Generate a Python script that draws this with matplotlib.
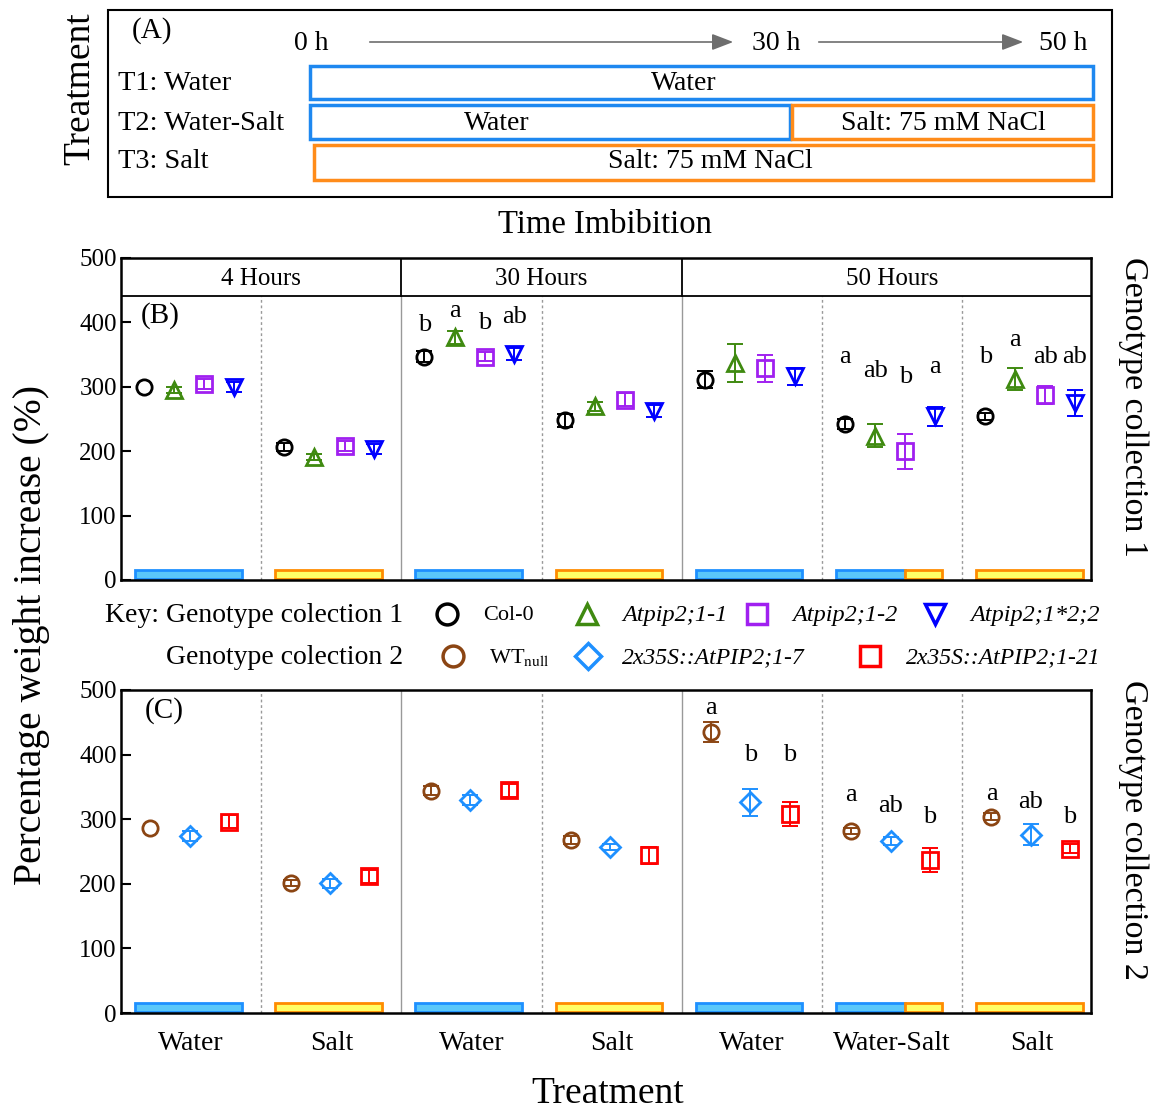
import matplotlib
matplotlib.use("Agg")
import matplotlib.pyplot as plt
from matplotlib.patches import Rectangle
import numpy as np

plt.rcParams['font.family'] = ['Liberation Serif', 'DejaVu Serif']
plt.rcParams['mathtext.fontset'] = 'stix'

# ---------------- data ----------------
groups = ["Water", "Salt", "Water", "Salt", "Water", "Water-Salt", "Salt"]
treat_kind = ["water", "salt", "water", "salt", "water", "watersalt", "salt"]
headers = ["4 Hours", "30 Hours", "50 Hours"]
header_span = [(0, 1), (2, 3), (4, 6)]

geno1 = ["Col-0", "Atpip2;1-1", "Atpip2;1-2", "Atpip2;1*2;2"]
col0 = [300, 207, 347, 248, 311, 242, 254]
col0_err = [0, 6, 8, 10, 13, 8, 6]
a11 = [295, 191, 377, 270, 337, 224, 312]
a11_err = [5, 5, 10, 7, 30, 18, 17]
a12 = [304, 208, 347, 280, 329, 200, 287]
a12_err = [8, 8, 7, 10, 21, 27, 14]
a122 = [300, 203, 351, 262, 316, 254, 275]
a122_err = [8, 8, 9, 9, 13, 15, 20]

geno2 = ["WT$_{\\mathrm{null}}$", "2x35S::AtPIP2;1-7", "2x35S::AtPIP2;1-21"]
wt = [286, 201, 344, 268, 435, 282, 304]
wt_err = [0, 5, 7, 6, 16, 5, 6]
oe7 = [274, 201, 330, 257, 326, 266, 276]
oe7_err = [7, 7, 8, 5, 21, 6, 16]
oe21 = [296, 212, 345, 244, 308, 237, 254]
oe21_err = [10, 10, 10, 13, 19, 19, 7]

# significance letters: (group, labels, heights)
letters_b = [(2, ["b", "a", "b", "ab"], [396, 418, 399, 408]),
             (5, ["a", "ab", "b", "a"], [346, 325, 315, 331]),
             (6, ["b", "a", "ab", "ab"], [347, 373, 346, 346])]
letters_c = [(4, ["a", "b", "b"], [472, 399, 399]),
             (5, ["a", "ab", "b"], [337, 321, 304]),
             (6, ["a", "ab", "b"], [339, 326, 304])]

# ---------------- styles ----------------
c1_colors = ["black", "#3f8a10", "#a020f0", "#0000ff"]
c1_markers = ["o", "^", "s", "v"]
c1_offsets = [-0.335, -0.12, 0.095, 0.305]
c2_colors = ["#8b4513", "#1e90ff", "#ff0000"]
c2_markers = ["o", "D", "s"]
c2_offsets = [-0.29, -0.01, 0.27]
water_fc, water_ec = "#5ac8fa", "#1e90ff"
salt_fc, salt_ec = "#ffff66", "#ff8c00"

W, H = 1156, 1112
fig = plt.figure(figsize=(W / 100, H / 100), dpi=100)


def px_axes(l, t, r, b):
    return [l / W, 1 - b / H, (r - l) / W, (b - t) / H]


def setup_panel(ax, header):
    ax.set_xlim(-0.5, 6.42)
    ax.set_ylim(0, 500)
    ax.set_yticks([0, 100, 200, 300, 400, 500])
    ax.tick_params(axis='y', labelsize=18, length=7, width=1.5, direction='in', pad=3)
    for s in ax.spines.values():
        s.set_linewidth(1.8)
        s.set_color("black")
    top = 441 if header else 500
    for xb in [1.5, 3.5]:
        ax.plot([xb, xb], [0, top], color="#999999", lw=1.0, zorder=1)
    for xb in [0.5, 2.5, 4.5, 5.5]:
        ax.plot([xb, xb], [0, top], color="#999999", lw=1.0, ls=(0, (2, 2)), zorder=1)
    if header:
        ax.axhline(441, color="black", lw=1.3)
        for xb in [1.5, 3.5]:
            ax.plot([xb, xb], [441, 500], color="black", lw=1.3)
        for h, (a, b) in zip(headers, header_span):
            ax.text((a + b) / 2, 467, h, ha="center", va="center", fontsize=18)
    # treatment bars
    bw = 0.76
    for i, k in enumerate(treat_kind):
        x0 = i - 0.02 - bw / 2
        if k == "water":
            ax.add_patch(Rectangle((x0, 2), bw, 14, fc=water_fc, ec=water_ec, lw=2, zorder=2))
        elif k == "salt":
            ax.add_patch(Rectangle((x0, 2), bw, 14, fc=salt_fc, ec=salt_ec, lw=2, zorder=2))
        else:
            f = 0.65
            ax.add_patch(Rectangle((x0, 1), bw * f, 14, fc=water_fc, ec=water_ec, lw=2, zorder=2))
            ax.add_patch(Rectangle((x0 + bw * f, 1), bw * (1 - f), 14, fc=salt_fc, ec=salt_ec, lw=2, zorder=2))


def draw_series(ax, xs, vals, errs, c, m, ms):
    xs = np.asarray(xs, float)
    vals = np.asarray(vals, float)
    errs = np.asarray(errs, float)
    ax.plot(xs, vals, ls="none", marker=m, mfc="none", mec=c, ms=ms, mew=2, zorder=4)
    keep = errs > 0
    ax.errorbar(xs[keep], vals[keep], yerr=errs[keep], fmt="none", ecolor=c,
                elinewidth=1.4, capsize=6, capthick=1.4, zorder=3)


x = np.arange(len(groups))

# ---------------- panel B ----------------
axB = fig.add_axes(px_axes(121, 258, 1091, 580))
setup_panel(axB, True)
axB.set_xticks([])
for vals, errs, c, m, off in zip([col0, a11, a12, a122], [col0_err, a11_err, a12_err, a122_err],
                                 c1_colors, c1_markers, c1_offsets):
    draw_series(axB, x + off, vals, errs, c, m, 11)
for g, labs, ys in letters_b:
    for lab, yy, off in zip(labs, ys, c1_offsets):
        axB.text(g + off, yy, lab, ha="center", va="center", fontsize=19)
axB.text(0.04, 0.82, "(B)", transform=axB.transAxes, fontsize=21, ha="center", va="center")

# ---------------- panel C ----------------
axC = fig.add_axes(px_axes(121, 690, 1091, 1013))
setup_panel(axC, False)
axC.set_xticks(x)
axC.set_xticklabels(groups, fontsize=20)
axC.tick_params(axis='x', length=0, pad=13)
for vals, errs, c, m, off in zip([wt, oe7, oe21], [wt_err, oe7_err, oe21_err],
                                 c2_colors, c2_markers, c2_offsets):
    draw_series(axC, x + off, vals, errs, c, m, 10 if m == "D" else 11)
for g, labs, ys in letters_c:
    for lab, yy, off in zip(labs, ys, c2_offsets):
        axC.text(g + off, yy, lab, ha="center", va="center", fontsize=19)
axC.text(0.045, 0.935, "(C)", transform=axC.transAxes, fontsize=21, ha="center", va="center")

# ---------------- overlay (panel A, legend, labels) ----------------
ov = fig.add_axes([0, 0, 1, 1], zorder=5)
ov.set_xlim(0, W)
ov.set_ylim(H, 0)
ov.axis("off")
ov.patch.set_alpha(0)

# panel A frame
ov.add_patch(Rectangle((108, 10), 1004, 187, fc="none", ec="black", lw=1.5))
ov.text(152, 31, "(A)", fontsize=21, ha="center", va="center")
ov.text(311, 43, "0 h", fontsize=20, ha="center", va="center")
ov.text(776, 43, "30 h", fontsize=20, ha="center", va="center")
ov.text(1063, 43, "50 h", fontsize=20, ha="center", va="center")
for xs, xe in [(367, 736), (816, 1026)]:
    ov.annotate("", xy=(xe, 42), xytext=(xs, 42),
                arrowprops=dict(arrowstyle="-|>,head_length=1.3,head_width=0.5", color="#6e6e6e", lw=1.2))
ov.text(118, 83, "T1: Water", fontsize=20.5, ha="left", va="center")
ov.text(118, 123, "T2: Water-Salt", fontsize=20.5, ha="left", va="center")
ov.text(118, 162, "T3: Salt", fontsize=20.5, ha="left", va="center")
blue_e, orange_e = "#1e88f0", "#ff8c1a"
ov.add_patch(Rectangle((310, 66), 783, 33, fc="none", ec=blue_e, lw=2.5))
ov.text(684, 83, "Water", fontsize=20, ha="center", va="center")
ov.add_patch(Rectangle((310, 105), 480, 34, fc="none", ec=blue_e, lw=2.5))
ov.add_patch(Rectangle((792, 105), 301, 34, fc="none", ec=orange_e, lw=2.5))
ov.text(497, 123, "Water", fontsize=20, ha="center", va="center")
ov.text(943, 123, "Salt: 75 mM NaCl", fontsize=20, ha="center", va="center")
ov.add_patch(Rectangle((314, 145), 779, 35, fc="none", ec=orange_e, lw=2.5))
ov.text(710, 162, "Salt: 75 mM NaCl", fontsize=20, ha="center", va="center")
ov.text(80, 89, "Treatment", fontsize=27, rotation=90, ha="center", va="center")
ov.text(605, 225, "Time Imbibition", fontsize=23.5, ha="center", va="center")

# legend
ov.text(403, 616, "Key: Genotype colection 1", fontsize=20, ha="right", va="center")
ov.text(403, 658, "Genotype colection 2", fontsize=20, ha="right", va="center")
leg1 = [(447, 483), (587, 622), (757, 792), (935, 970)]
for (mx, tx), name, c, m in zip(leg1, geno1, c1_colors, c1_markers):
    ov.plot(mx, 614, marker=m, mfc="none", mec=c, mew=2.5, ms=15)
    ov.text(tx, 616, name, fontsize=16 if name == "Col-0" else 17.5, ha="left", va="center",
            style="normal" if name == "Col-0" else "italic")
leg2 = [(453, 489), (588, 622), (870, 906)]
for (mx, tx), name, c, m in zip(leg2, geno2, c2_colors, c2_markers):
    ov.plot(mx, 656, marker=m, mfc="none", mec=c, mew=2.5, ms=13 if m == "D" else 15)
    ov.text(tx, 658, name, fontsize=16 if name.startswith("WT") else 17, ha="left", va="center",
            style="normal" if name.startswith("WT") else "italic")

ov.text(32, 635, "Percentage weight increase (%)", fontsize=28.5, rotation=90, ha="center", va="center")
ov.text(1133, 407, "Genotype collection 1", fontsize=24.5, rotation=270, ha="center", va="center")
ov.text(1133, 830, "Genotype collection 2", fontsize=24.5, rotation=270, ha="center", va="center")
ov.text(608, 1094, "Treatment", fontsize=27, ha="center", va="center")

fig.savefig("out.png", dpi=100)
